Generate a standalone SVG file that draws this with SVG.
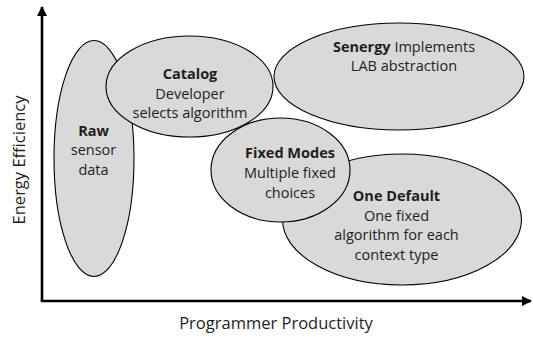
<svg xmlns="http://www.w3.org/2000/svg" width="533" height="337" viewBox="0 0 533 337">
  <defs>
    <marker id="arrow" viewBox="0 0 10 10" refX="9" refY="5" markerWidth="10" markerHeight="10" markerUnits="userSpaceOnUse" orient="auto">
      <path d="M0,0 L10,5 L0,10 Z" fill="#000"/>
    </marker>
  </defs>
  <style>
    .node ellipse { fill: #d9d9d9; stroke: #000; stroke-width: 1.1; }
    .node text, .axis-label { font-family: "Open Sans", "DejaVu Sans", sans-serif; fill: #1e1e1e; text-anchor: middle; }
    .node text { font-size: 14.5px; }
    .b { font-weight: bold; }
    .axis-label { font-size: 16.5px; }
    .axis { stroke: #000; stroke-width: 2.6; fill: none; }
  </style>
  <rect width="533" height="337" fill="#fff"/>

  <g id="axes">
    <path class="axis" d="M42,301 L42,7" marker-end="url(#arrow)"/>
    <path class="axis" d="M40.7,301 L531,301" marker-end="url(#arrow)"/>
  </g>

  <text class="axis-label" x="276" y="329">Programmer Productivity</text>
  <text class="axis-label" transform="translate(25,160) rotate(-90)" x="0" y="0">Energy Efficiency</text>

  <g id="raw" class="node">
    <ellipse cx="94" cy="158.5" rx="40" ry="118"/>
    <text x="93.5" y="135.7" class="b">Raw</text>
    <text x="93.5" y="154.5">sensor</text>
    <text x="93.5" y="175">data</text>
  </g>

  <g id="catalog" class="node">
    <ellipse cx="189.5" cy="86.5" rx="83.5" ry="50.5"/>
    <text x="190" y="79.3" class="b">Catalog</text>
    <text x="190" y="98.5">Developer</text>
    <text x="190" y="117.5">selects algorithm</text>
  </g>

  <g id="senergy" class="node">
    <ellipse cx="399" cy="76.5" rx="125" ry="53.5"/>
    <text x="404" y="51.5"><tspan class="b">Senergy</tspan> Implements</text>
    <text x="404" y="71">LAB abstraction</text>
  </g>

  <g id="one-default" class="node">
    <ellipse cx="402" cy="219.5" rx="119.5" ry="65.5"/>
    <text x="396.5" y="201" class="b">One Default</text>
    <text x="396.5" y="220.5">One fixed</text>
    <text x="396.5" y="240">algorithm for each</text>
    <text x="396.5" y="259.5">context type</text>
  </g>

  <g id="fixed-modes" class="node">
    <ellipse cx="280.5" cy="170" rx="69.5" ry="52"/>
    <text x="290" y="158.3" class="b">Fixed Modes</text>
    <text x="290" y="178.3">Multiple fixed</text>
    <text x="290" y="198">choices</text>
  </g>
</svg>
